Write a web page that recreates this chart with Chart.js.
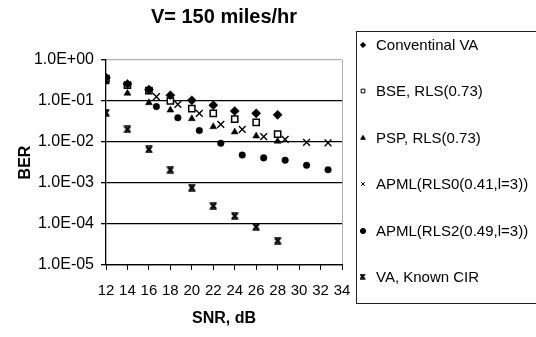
<!DOCTYPE html>
<html lang="en">
<head>
    <meta charset="UTF-8">
    <title>V= 150 miles/hr</title>
    <script src="https://cdn.jsdelivr.net/npm/chart.js"></script>
    <style>
        body {
            margin: 0;
            width: 536px;
            height: 337px;
            overflow: hidden;
            background: #fff;
            font-family: "Liberation Sans", Arial, sans-serif;
            position: relative;
        }
        #chart {
            position: absolute;
            left: 0;
            top: 0;
        }
        .legend-box {
            position: absolute;
            left: 356px;
            top: 31px;
            width: 200px;
            height: 271px;
            border: 1.5px solid #222;
        }
        .legend-row {
            position: absolute;
            left: 0;
            height: 20px;
            line-height: 20px;
            font-size: 15px;
            color: #000;
            white-space: nowrap;
        }
        .legend-row canvas {
            position: absolute;
            left: 0;
            top: 5px;
        }
        .legend-row span {
            position: absolute;
            left: 18px;
        }
    </style>
</head>
<body>
    <canvas id="chart" width="536" height="337"></canvas>
    <div class="legend-box" id="legend"></div>

    <script>
        // values
        const snrEven = [12, 14, 16, 18, 20, 22, 24, 26, 28];
        const snrApml = [16.7, 18.7, 20.7, 22.7, 24.7, 26.7, 28.7, 30.7, 32.7];

        const berConvVA = [0.37, 0.26, 0.19, 0.138, 0.104, 0.079, 0.057, 0.050, 0.046];
        const berBSE = [0.35, 0.245, 0.178, 0.10, 0.065, 0.050, 0.036, 0.030, 0.0155];
        const berPSP = [0.29, 0.154, 0.091, 0.060, 0.037, 0.0236, 0.0176, 0.014, 0.0104];
        const berApml0 = [0.127, 0.083, 0.050, 0.027, 0.0204, 0.0135, 0.0116, 0.0098, 0.0095];
        const berApml2 = [0.073, 0.039, 0.019, 0.0093, 0.0048, 0.0041, 0.0036, 0.0027, 0.0021];
        const berKnownCIR = [0.052, 0.0204, 0.0066, 0.0021, 0.00077, 0.000275, 0.000157, 0.000085, 0.000039];

        const seriesNames = ['Conventinal VA', 'BSE, RLS(0.73)', 'PSP, RLS(0.73)',
            'APML(RLS0(0.41,l=3))', 'APML(RLS2(0.49,l=3))', 'VA, Known CIR'];

        const yTickValues = [1e-5, 1e-4, 1e-3, 1e-2, 1e-1, 1];
        const yTickLabels = ['1.0E-05', '1.0E-04', '1.0E-03', '1.0E-02', '1.0E-01', '1.0E+00'];

        const FONT = '"Liberation Sans", Arial, sans-serif';

        // bold x with bars, for the known CIR curve
        function boldCross(size) {
            const c = document.createElement('canvas');
            c.width = size; c.height = size;
            const g = c.getContext('2d');
            g.strokeStyle = '#000';
            g.lineWidth = 2.2;
            g.beginPath();
            g.moveTo(1.5, 1.5); g.lineTo(size - 1.5, size - 1.5);
            g.moveTo(size - 1.5, 1.5); g.lineTo(1.5, size - 1.5);
            g.stroke();
            g.lineWidth = 1.5;
            g.beginPath();
            g.moveTo(0.5, 1); g.lineTo(size - 0.5, 1);
            g.moveTo(0.5, size - 1); g.lineTo(size - 0.5, size - 1);
            g.stroke();
            return c;
        }

        function pts(xs, ys) {
            return xs.map((x, i) => ({ x: x, y: ys[i] }));
        }

        const datasets = [
            { label: seriesNames[0], data: pts(snrEven, berConvVA), pointStyle: 'rectRot', pointRadius: 4.6,
              backgroundColor: '#000', borderColor: '#000', borderWidth: 0.5 },
            { label: seriesNames[1], data: pts(snrEven, berBSE), pointStyle: 'rect', pointRadius: 4.4,
              backgroundColor: '#fff', borderColor: '#000', borderWidth: 1.5 },
            { label: seriesNames[2], data: pts(snrEven, berPSP), pointStyle: 'triangle', pointRadius: 4,
              backgroundColor: '#000', borderColor: '#000', borderWidth: 0.5 },
            { label: seriesNames[3], data: pts(snrApml, berApml0), pointStyle: 'crossRot', pointRadius: 4.8,
              backgroundColor: '#000', borderColor: '#000', borderWidth: 1.4 },
            { label: seriesNames[4], data: pts(snrApml, berApml2), pointStyle: 'circle', pointRadius: 3.3,
              backgroundColor: '#000', borderColor: '#000', borderWidth: 0.5 },
            { label: seriesNames[5], data: pts(snrEven, berKnownCIR), pointStyle: boldCross(8), pointRadius: 4,
              backgroundColor: '#000', borderColor: '#000', borderWidth: 1 }
        ];

        const chart = new Chart(document.getElementById('chart'), {
            type: 'scatter',
            data: { datasets: datasets },
            options: {
                responsive: false,
                animation: false,
                devicePixelRatio: 1,
                layout: { padding: { left: 0, right: 194, top: 0, bottom: 0 } },
                plugins: {
                    legend: { display: false },
                    tooltip: { enabled: false },
                    title: {
                        display: true,
                        text: 'V= 150 miles/hr',
                        fullSize: false,
                        color: '#000',
                        font: { family: FONT, size: 20, weight: 'bold' },
                        padding: { top: 5, bottom: 31 }
                    }
                },
                scales: {
                    x: {
                        type: 'linear',
                        min: 12,
                        max: 34,
                        afterFit: (s) => { s.height = 72; },
                        ticks: {
                            stepSize: 2,
                            color: '#000',
                            padding: 12,
                            maxRotation: 0,
                            font: { family: FONT, size: 15 }
                        },
                        grid: {
                            color: (ctx) => ctx.tick && ctx.tick.value === 34 ? '#b0b0b0' : 'rgba(0,0,0,0)',
                            tickColor: '#000',
                            tickLength: 5,
                            lineWidth: 1
                        },
                        border: { display: true, color: '#000', width: 1.2 },
                        title: {
                            display: true,
                            text: 'SNR, dB',
                            color: '#000',
                            font: { family: FONT, size: 16, weight: 'bold' },
                            padding: { top: 0, bottom: 9 }
                        }
                    },
                    y: {
                        type: 'logarithmic',
                        min: 1e-5,
                        max: 1,
                        afterFit: (s) => { s.width = 106; },
                        afterBuildTicks: (s) => { s.ticks = yTickValues.map(v => ({ value: v })); },
                        ticks: {
                            color: '#000',
                            padding: 7,
                            font: { family: FONT, size: 16 },
                            callback: (v) => {
                                const i = yTickValues.findIndex(t => Math.abs(Math.log10(t) - Math.log10(v)) < 1e-6);
                                return i >= 0 ? yTickLabels[i] : '';
                            }
                        },
                        grid: {
                            color: (ctx) => ctx.tick && ctx.tick.value === 1 ? '#b0b0b0' : '#000',
                            tickColor: '#000',
                            tickLength: 5,
                            lineWidth: 1.3
                        },
                        border: { display: true, color: '#000', width: 1.3 },
                        title: {
                            display: true,
                            text: 'BER',
                            color: '#000',
                            font: { family: FONT, size: 16, weight: 'bold' },
                            padding: { top: 16, bottom: 0 }
                        }
                    }
                }
            }
        });

        // boxed legend to the right, cut off by the window edge like the original
        const legendCenters = [45, 91.5, 138, 184.5, 231, 277];
        const legendBox = document.getElementById('legend');
        const boxTop = 31 + 1.5;
        datasets.forEach((ds, i) => {
            const row = document.createElement('div');
            row.className = 'legend-row';
            row.style.top = (legendCenters[i] - boxTop - 10) + 'px';
            row.style.left = '1px';
            const mk = document.createElement('canvas');
            mk.width = 10; mk.height = 10;
            const g = mk.getContext('2d');
            g.fillStyle = ds.backgroundColor;
            g.strokeStyle = ds.borderColor;
            if (Chart.helpers && Chart.helpers.drawPoint) {
                if (typeof ds.pointStyle === 'string') {
                    Chart.helpers.drawPoint(g, { pointStyle: ds.pointStyle, radius: 2.6, borderWidth: 1, rotation: 0 }, 5, 5);
                } else {
                    g.drawImage(ds.pointStyle, 1.5, 1.5, 6, 6);
                }
            }
            const txt = document.createElement('span');
            txt.textContent = ds.label;
            row.appendChild(mk);
            row.appendChild(txt);
            legendBox.appendChild(row);
        });
    </script>
</body>
</html>
